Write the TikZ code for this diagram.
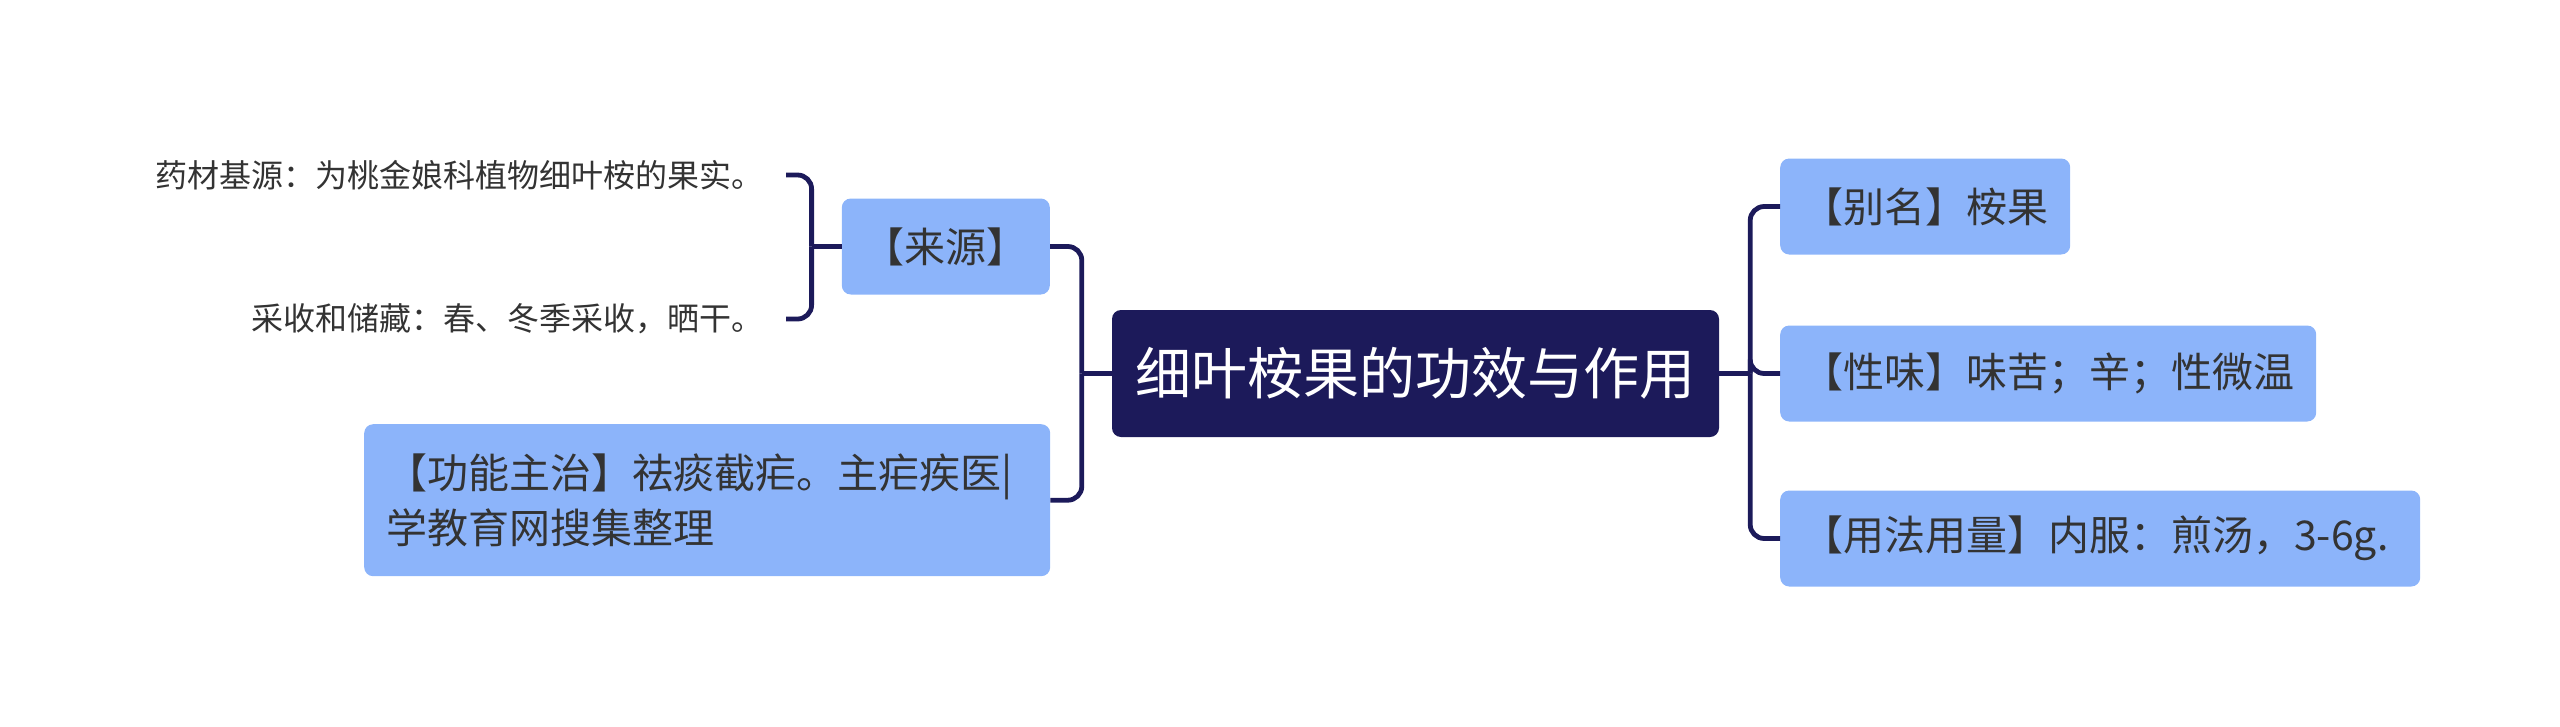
\documentclass[tikz,border=0pt]{standalone}
\usepackage{fontspec}
\setmainfont{Noto Sans CJK SC}
\definecolor{navy}{HTML}{1C1A5A}
\definecolor{lblue}{HTML}{8CB4FA}
\definecolor{txt}{HTML}{333333}
\begin{document}
\begin{tikzpicture}[x=1pt,y=1pt,
  conn/.style={draw=navy, line width=4.8pt, rounded corners=14pt},
  rootbox/.style={fill=navy, text=white, rounded corners=9pt, font=\fontsize{56}{66}\selectfont, minimum width=607pt, minimum height=127pt, inner sep=0pt},
  subbox/.style={fill=lblue, text=txt, rounded corners=9pt, font=\fontsize{41}{48}\selectfont, minimum height=96pt, inner xsep=22pt, inner ysep=0pt},
  leaf/.style={text=txt, font=\fontsize{32}{38}\selectfont, inner xsep=22pt, inner ysep=4pt}]
\useasboundingbox (0,0) rectangle (2560,-726);
\node[rootbox] (root) at (1415.5,-373.5) {细叶桉果的功效与作用};
\node[subbox, anchor=west] (alias) at (1780,-206.5) {【别名】桉果};
\node[subbox, anchor=west] (taste) at (1780,-373.5) {【性味】味苦；辛；性微温};
\node[subbox, anchor=west, minimum width=640pt, text width=596pt, align=left] (usage) at (1780,-538.5) {【用法用量】内服：煎汤，3-6g.};
\node[subbox, anchor=east] (src) at (1050,-246.5) {【来源】};
\node[subbox, anchor=north west, minimum width=686pt, minimum height=152pt, text width=642pt, align=left, font=\fontsize{41}{55}\selectfont] (func) at (364,-424) {【功能主治】祛痰截疟。主疟疾医|\\学教育网搜集整理};
\node[leaf, anchor=east] (l1) at (786,-175) {药材基源：为桃金娘科植物细叶桉的果实。};
\node[leaf, anchor=east] (l2) at (786,-319) {采收和储藏：春、冬季采收，晒干。};
\draw[conn] (root.west) -- ++(-30,0) coordinate (lj);
\draw[conn] (lj) |- (src.east);
\draw[conn] (lj) |- (func.east);
\draw[conn] (root.east) -- ++(31,0) coordinate (rj);
\draw[conn] (rj) |- (alias.west);
\draw[conn] (rj) |- (taste.west);
\draw[conn] (rj) |- (usage.west);
\draw[conn] (src.west) -- ++(-30,0) coordinate (bj);
\draw[conn] (bj) |- (l1.east);
\draw[conn] (bj) |- (l2.east);
\end{tikzpicture}
\end{document}
